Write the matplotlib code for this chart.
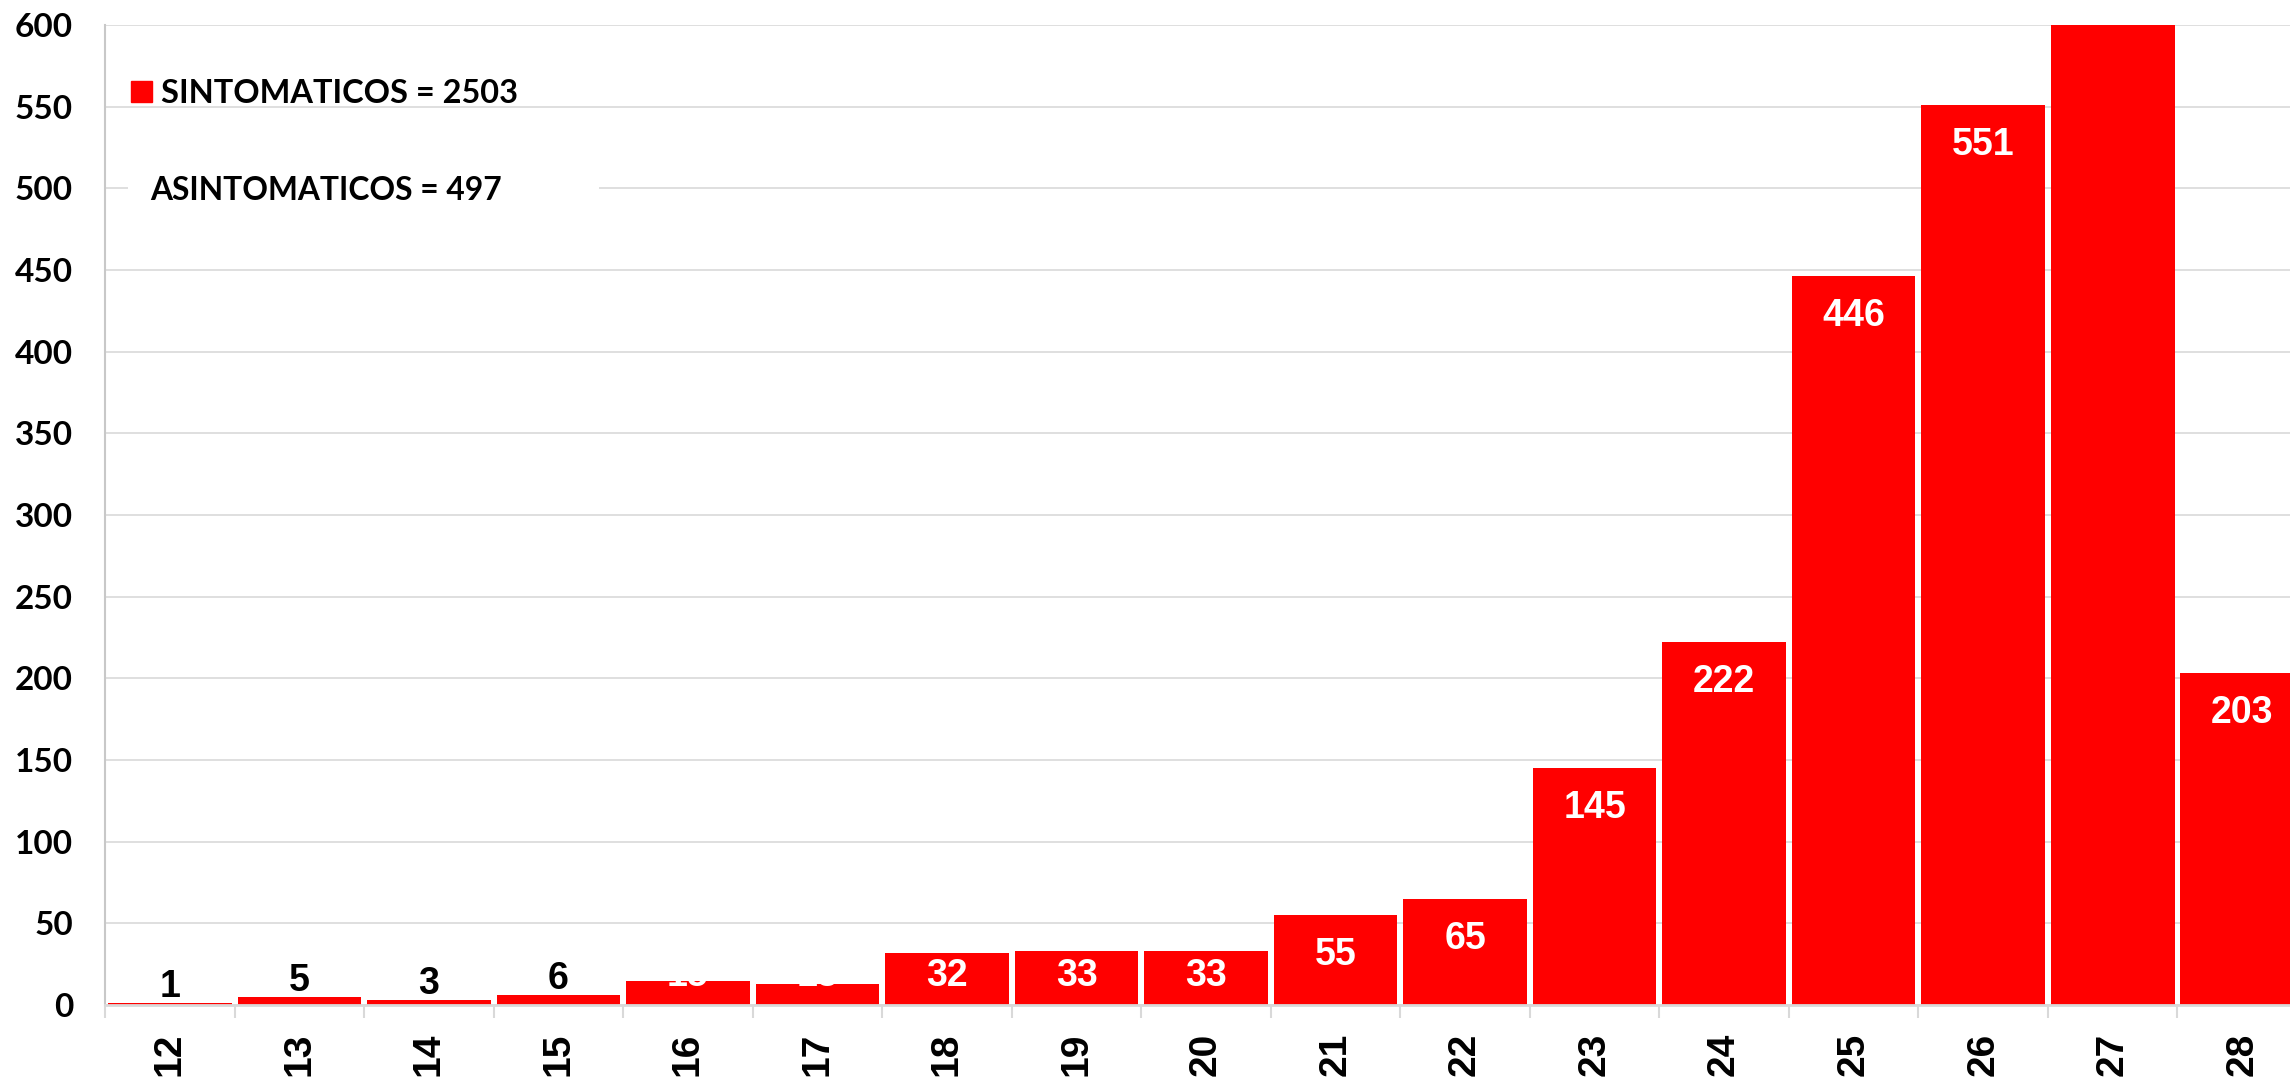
#!/usr/bin/env python3
"""Casos sintomaticos por semana epidemiologica"""

import matplotlib
matplotlib.use("Agg")
import matplotlib.pyplot as plt
from matplotlib.patches import Patch, Rectangle

semanas = ["12", "13", "14", "15", "16", "17", "18", "19", "20",
           "21", "22", "23", "24", "25", "26", "27", "28"]
casos = [1, 5, 3, 6, 15, 13, 32, 33, 33, 55, 65, 145, 222, 446, 551, 675, 203]
total_sintomaticos = 2503
total_asintomaticos = 497
yticks = list(range(0, 601, 50))

RED = "#FF0000"
GRID = "#D9D9D9"
TICK_FONT = "Lato"
NUM_FONT = "Liberation Sans"


def main():
    fig = plt.figure(figsize=(22.9, 10.81), dpi=100)
    # axes run a little past the right edge, like the cropped original
    ax = fig.add_axes([0.0459, 0.0703, 0.9615, 0.9067])

    x = list(range(len(semanas)))
    ax.bar(x, casos, width=0.955, color=RED, linewidth=0, zorder=2,
           label=f"SINTOMATICOS = {total_sintomaticos}")

    ax.set_xlim(-0.5, len(semanas) - 0.5)
    ax.set_ylim(0, 600)
    ax.set_yticks(yticks)
    ax.set_yticklabels([str(t) for t in yticks], fontfamily=TICK_FONT,
                       fontweight="bold", fontsize=24)
    ax.tick_params(axis="y", length=0, pad=23)

    ax.set_xticks(x)
    ax.set_xticklabels(semanas, rotation=90, fontfamily=NUM_FONT,
                       fontweight="bold", fontsize=28)
    ax.set_xticks([i - 0.5 for i in range(len(semanas) + 1)], minor=True)
    ax.tick_params(axis="x", which="major", length=0, pad=20)
    ax.tick_params(axis="x", which="minor", length=9, width=1.5, color=GRID)

    ax.grid(axis="y", color=GRID, linewidth=1.2, zorder=0)
    ax.set_axisbelow(True)
    for s in ["top", "right"]:
        ax.spines[s].set_visible(False)
    ax.spines["left"].set_color("#C8C8C8")
    ax.spines["left"].set_linewidth(1.5)
    ax.spines["bottom"].set_color(GRID)
    ax.spines["bottom"].set_linewidth(2)

    # value labels: inside end (white), small bars get black labels above
    ppu = (ax.transData.transform((0, 600))[1] - ax.transData.transform((0, 0))[1]) / 600
    for xi, v in zip(x, casos):
        if v < 10:
            off, col = 16, "black"
        else:
            off, col = max(-40, 29 - v * ppu), "white"
        ax.annotate(str(v), xy=(xi, v), xytext=(0, off), textcoords="offset pixels",
                    ha="center", va="center", color=col, fontsize=27,
                    fontfamily=NUM_FONT, fontweight="bold", zorder=3)

    # legend
    ax.legend(handles=[Patch(color=RED, label=f"SINTOMATICOS = {total_sintomaticos}")],
              loc="center left", bbox_to_anchor=(0.0118, 0.930), frameon=False,
              prop={"family": TICK_FONT, "weight": "bold", "size": 23.4},
              handlelength=0.64, handleheight=0.64, handletextpad=0.28,
              borderpad=0, borderaxespad=0)
    ax.add_patch(Rectangle((0.0104, 0.805), 0.214, 0.05, transform=ax.transAxes,
                           facecolor="white", edgecolor="none", zorder=1.5))
    ax.text(0.0204, 0.8306, f"ASINTOMATICOS = {total_asintomaticos}",
            transform=ax.transAxes, ha="left", va="center", fontfamily=TICK_FONT,
            fontweight="bold", fontsize=22.9, zorder=3)

    fig.savefig("out.png", dpi=100)


if __name__ == "__main__":
    main()
